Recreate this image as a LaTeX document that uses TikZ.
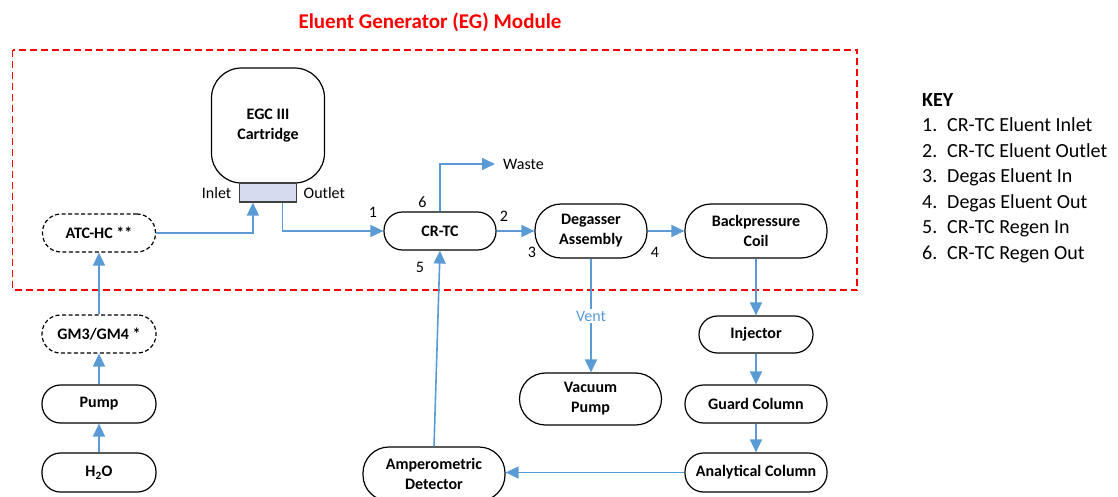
\documentclass[tikz,border=0pt]{standalone}
\usepackage{fontspec}
\setmainfont{Carlito}
\usetikzlibrary{arrows.meta,calc}
\definecolor{flow}{HTML}{5B9BD5}
\definecolor{egred}{HTML}{FF0000}
\definecolor{connfill}{HTML}{D6DCF0}
\begin{document}
\begin{tikzpicture}[x=1pt,y=-1pt,
  base/.style={draw=black,line width=1.2pt,fill=white,inner sep=0pt,align=center,
    font=\bfseries\fontsize{16}{20}\selectfont},
  pill/.style={base,rounded corners=18.5pt,minimum height=38pt},
  tallpill/.style={base,rounded corners=26pt,minimum height=54pt},
  dashpill/.style={pill,dash pattern=on 4pt off 2.5pt},
  flowline/.style={draw=flow,line width=1.6pt},
  flowarrow/.style={flowline,-{Triangle[length=13pt,width=12pt]}},
  lbl/.style={inner sep=0pt,font=\fontsize{16}{20}\selectfont},
  keytxt/.style={inner sep=0pt,anchor=base west,font=\fontsize{20}{24}\selectfont}
]
\useasboundingbox (0,0) rectangle (1118,497);

% EG module frame and title
\draw[egred,line width=1.5pt,dash pattern=on 7pt off 4pt] (12.5,50) rectangle (857,290);
\node[inner sep=0pt,text=egred,font=\bfseries\fontsize{21}{25}\selectfont] (title) at (430,22) {Eluent Generator (EG) Module};

% nodes
\node[base,rounded corners=30pt,minimum width=113pt,minimum height=115pt] (egc) at (268,125.5) {EGC III\\Cartridge};
\node[draw=black!75,line width=1.2pt,fill=connfill,minimum width=57pt,minimum height=19pt,inner sep=0pt] (conn) at (268,192.5) {};
\node[lbl,anchor=east] (inlet) at (231.5,193) {Inlet};
\node[lbl,anchor=west] (outlet) at (303.5,193) {Outlet};

\node[dashpill,minimum width=113pt] (atc) at (99,233) {ATC-HC **};
\node[dashpill,minimum width=114pt] (gm) at (99,334) {GM3/GM4 *};
\node[pill,minimum width=114pt] (pump) at (99,404) {Pump};
\node[pill,minimum width=114pt,minimum height=39pt] (h2o) at (99,472.5) {H\textsubscript{2}O};

\node[pill,minimum width=112pt] (crtc) at (440,231) {CR-TC};
\node[tallpill,minimum width=112pt] (degas) at (591,231) {Degasser\\Assembly};
\node[tallpill,minimum width=142pt] (bp) at (756,231) {Backpressure\\Coil};
\node[tallpill,minimum width=142pt,minimum height=52pt] (vac) at (590.5,399) {Vacuum\\Pump};
\node[pill,minimum width=114pt,minimum height=37pt] (inj) at (756,334.5) {Injector};
\node[pill,minimum width=142pt] (guard) at (756,404) {Guard Column};
\node[pill,minimum width=142pt,minimum height=39pt] (anal) at (756,472.5) {Analytical Column};
\node[tallpill,minimum width=142pt] (amp) at (434,474) {Amperometric\\Detector};

% port numbers
\node[lbl] (n1) at (373,212) {1};
\node[lbl] (n6) at (422.5,202) {6};
\node[lbl] (n2) at (504,216) {2};
\node[lbl] (n3) at (532,252) {3};
\node[lbl] (n4) at (655,252) {4};
\node[lbl] (n5) at (420,267) {5};

% connectors
\draw[flowarrow] (h2o) -- (pump);
\draw[flowarrow] (pump) -- (gm);
\draw[flowarrow] (gm) -- (atc);
\draw[flowarrow] (atc.east) -| ($(conn.south west)+(14,0)$);
\draw[flowarrow] ($(conn.south east)+(-14.5,0)$) |- (crtc.west);
\coordinate (waste) at (495,164);
\draw[flowarrow] (crtc.north) |- (waste);
\node[lbl,anchor=west] (wastelbl) at (503,164) {Waste};
\draw[flowarrow] (crtc.east) -- (degas.west);
\draw[flowarrow] (degas.east) -- (bp.west);
\draw[flowarrow] (degas.south) -- (degas.south |- vac.north);
\node[lbl,fill=white,text=flow,inner sep=2pt] (vent) at (591,316) {Vent};
\draw[flowarrow] (bp.south) -- (inj.north);
\draw[flowarrow] (inj) -- (guard);
\draw[flowarrow] (guard) -- (anal);
\draw[flowarrow] (anal.west) -- (anal.west -| amp.east);
\draw[flowarrow] (amp.north) -- (crtc.south);

% key
\node[keytxt,font=\bfseries\fontsize{20}{24}\selectfont] (key) at (922,107) {KEY};
\foreach \i/\t [count=\k from 0] in {1/CR-TC Eluent Inlet,2/CR-TC Eluent Outlet,3/Degas Eluent In,4/Degas Eluent Out,5/CR-TC Regen In,6/CR-TC Regen Out}{
  \node[keytxt] (kn\i) at (922,132+25.4*\k) {\i.};
  \node[keytxt] (kt\i) at (947,132+25.4*\k) {\t};
}
\end{tikzpicture}
\end{document}
